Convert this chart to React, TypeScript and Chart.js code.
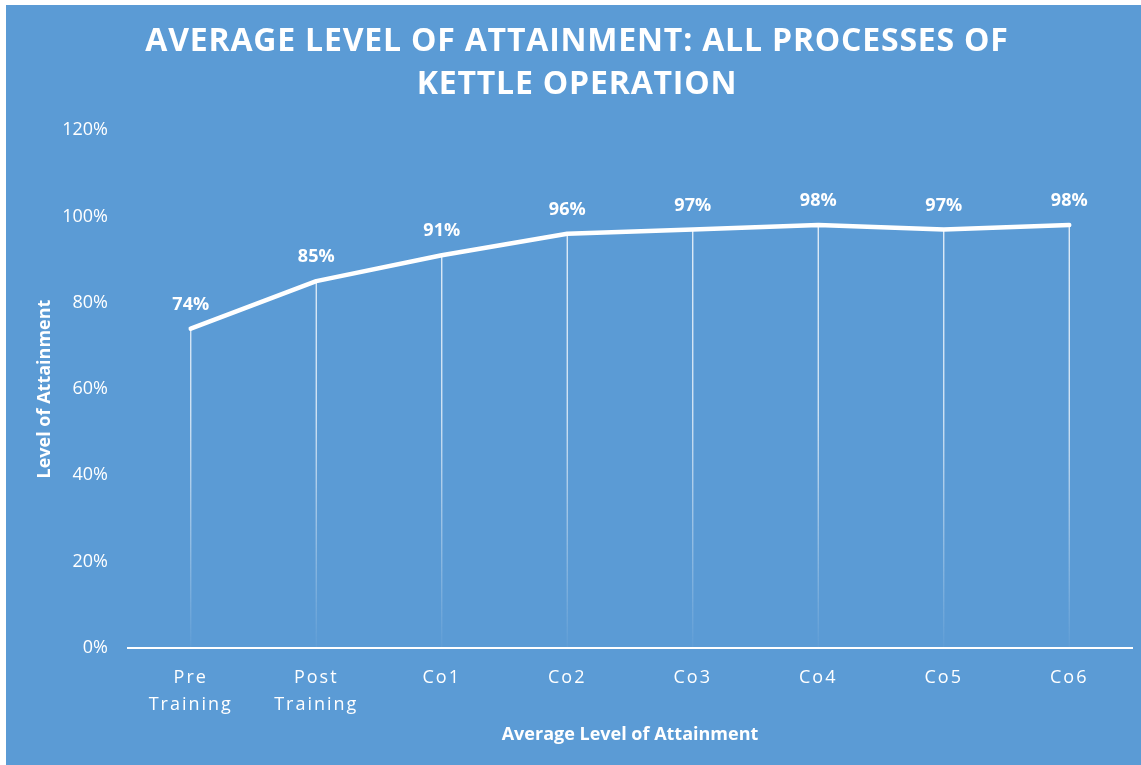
import React, { useEffect, useRef } from 'react';
import { Chart, registerables } from 'chart.js';

Chart.register(...registerables);

const TITLE_LINES = ['AVERAGE LEVEL OF ATTAINMENT: ALL PROCESSES OF', 'KETTLE OPERATION'];
const CATEGORIES: (string | string[])[] = [
  ['Pre', 'Training'],
  ['Post', 'Training'],
  'Co1',
  'Co2',
  'Co3',
  'Co4',
  'Co5',
  'Co6',
];
const VALUES = [74, 85, 91, 96, 97, 98, 97, 98];
const Y_MIN = 0;
const Y_MAX = 120;
const Y_STEP = 20;
const X_TITLE = 'Average Level of Attainment';
const Y_TITLE = 'Level of Attainment';

const BG = '#5B9BD5';
const FONT = "'Open Sans', 'DejaVu Sans', sans-serif";

const spacingPlugin = {
  id: 'letterSpacingPatch',
  beforeDraw(chart: any) {
    const patch = (obj: any, method: string, spacing: string) => {
      if (!obj || obj['__patched_' + method]) return;
      const orig = obj[method];
      obj[method] = function (...args: any[]) {
        const ctx = chart.ctx;
        ctx.save();
        ctx.letterSpacing = spacing;
        try {
          return orig.apply(this, args);
        } finally {
          ctx.restore();
        }
      };
      obj['__patched_' + method] = true;
    };
    patch(chart.titleBlock, 'draw', '0.8px');
    patch(chart.scales.x, 'drawLabels', '2px');
  },
};

const dropLinesPlugin = {
  id: 'dropLines',
  beforeDatasetsDraw(chart: any) {
    const { ctx, chartArea } = chart;
    const meta = chart.getDatasetMeta(0);
    const bottom = chartArea.bottom;
    ctx.save();
    const g = ctx.createLinearGradient(0, chartArea.top, 0, bottom);
    g.addColorStop(0, 'rgba(255,255,255,0.95)');
    g.addColorStop(0.55, 'rgba(255,255,255,0.8)');
    g.addColorStop(1, 'rgba(255,255,255,0.03)');
    ctx.strokeStyle = g;
    ctx.lineWidth = 1.25;
    meta.data.forEach((pt: any) => {
      ctx.beginPath();
      ctx.moveTo(pt.x, pt.y);
      ctx.lineTo(pt.x, bottom);
      ctx.stroke();
    });
    ctx.restore();
  },
};

const dataLabelPlugin = {
  id: 'dataLabels',
  afterDatasetsDraw(chart: any) {
    const { ctx } = chart;
    const meta = chart.getDatasetMeta(0);
    const data = chart.data.datasets[0].data as number[];
    ctx.save();
    ctx.fillStyle = '#ffffff';
    ctx.font = `bold 18px ${FONT}`;
    ctx.textAlign = 'center';
    ctx.textBaseline = 'middle';
    meta.data.forEach((pt: any, i: number) => {
      ctx.fillText(`${data[i]}%`, pt.x, pt.y - 24);
    });
    ctx.restore();
  },
};

export default function App() {
  const canvasRef = useRef<HTMLCanvasElement | null>(null);

  useEffect(() => {
    if (!canvasRef.current) return;
    const chart = new Chart(canvasRef.current, {
      type: 'line',
      data: {
        labels: CATEGORIES,
        datasets: [
          {
            data: VALUES,
            borderColor: '#ffffff',
            borderWidth: 4.5,
            borderCapStyle: 'round',
            borderJoinStyle: 'round',
            pointRadius: 0,
            pointHoverRadius: 0,
            tension: 0,
            fill: false,
          },
        ],
      },
      options: {
        animation: false,
        responsive: true,
        maintainAspectRatio: false,
        events: [],
        layout: { padding: { left: 16, right: 9, top: 0, bottom: 0 } },
        plugins: {
          legend: { display: false },
          tooltip: { enabled: false },
          title: {
            display: true,
            text: TITLE_LINES,
            color: '#ffffff',
            font: { family: FONT, size: 32, weight: 'bold', lineHeight: 1.33 },
            padding: { top: 16, bottom: 24 },
          },
        },
        scales: {
          x: {
            offset: true,
            grid: { display: false, drawTicks: false },
            border: { display: true, color: '#ffffff', width: 2 },
            ticks: {
              color: '#ffffff',
              padding: 16,
              maxRotation: 0,
              autoSkip: false,
              font: { family: FONT, size: 18, lineHeight: 1.5 },
            },
            title: {
              display: true,
              text: X_TITLE,
              color: '#ffffff',
              font: { family: FONT, size: 18, weight: 'bold', lineHeight: 1.2 },
              padding: { top: 0, bottom: 19 },
            },
            afterFit(scale: any) {
              scale.height = 117;
            },
          },
          y: {
            min: Y_MIN,
            max: Y_MAX,
            grid: { display: false, drawTicks: false },
            border: { display: false },
            ticks: {
              stepSize: Y_STEP,
              color: '#ffffff',
              padding: 20,
              font: { family: FONT, size: 18 },
              callback: (v: any) => `${v}%`,
            },
            title: {
              display: true,
              text: Y_TITLE,
              color: '#ffffff',
              font: { family: FONT, size: 18, weight: 'bold', lineHeight: 1.2 },
              padding: { top: 12, bottom: 0 },
            },
            afterFit(scale: any) {
              scale.width = 106;
            },
          },
        },
      },
      plugins: [spacingPlugin, dropLinesPlugin, dataLabelPlugin],
    } as any);
    return () => chart.destroy();
  }, []);

  return (
    <div
      style={{
        position: 'fixed',
        left: 6,
        top: 5,
        width: 1135,
        height: 760,
        background: BG,
      }}
    >
      <canvas ref={canvasRef} />
    </div>
  );
}
